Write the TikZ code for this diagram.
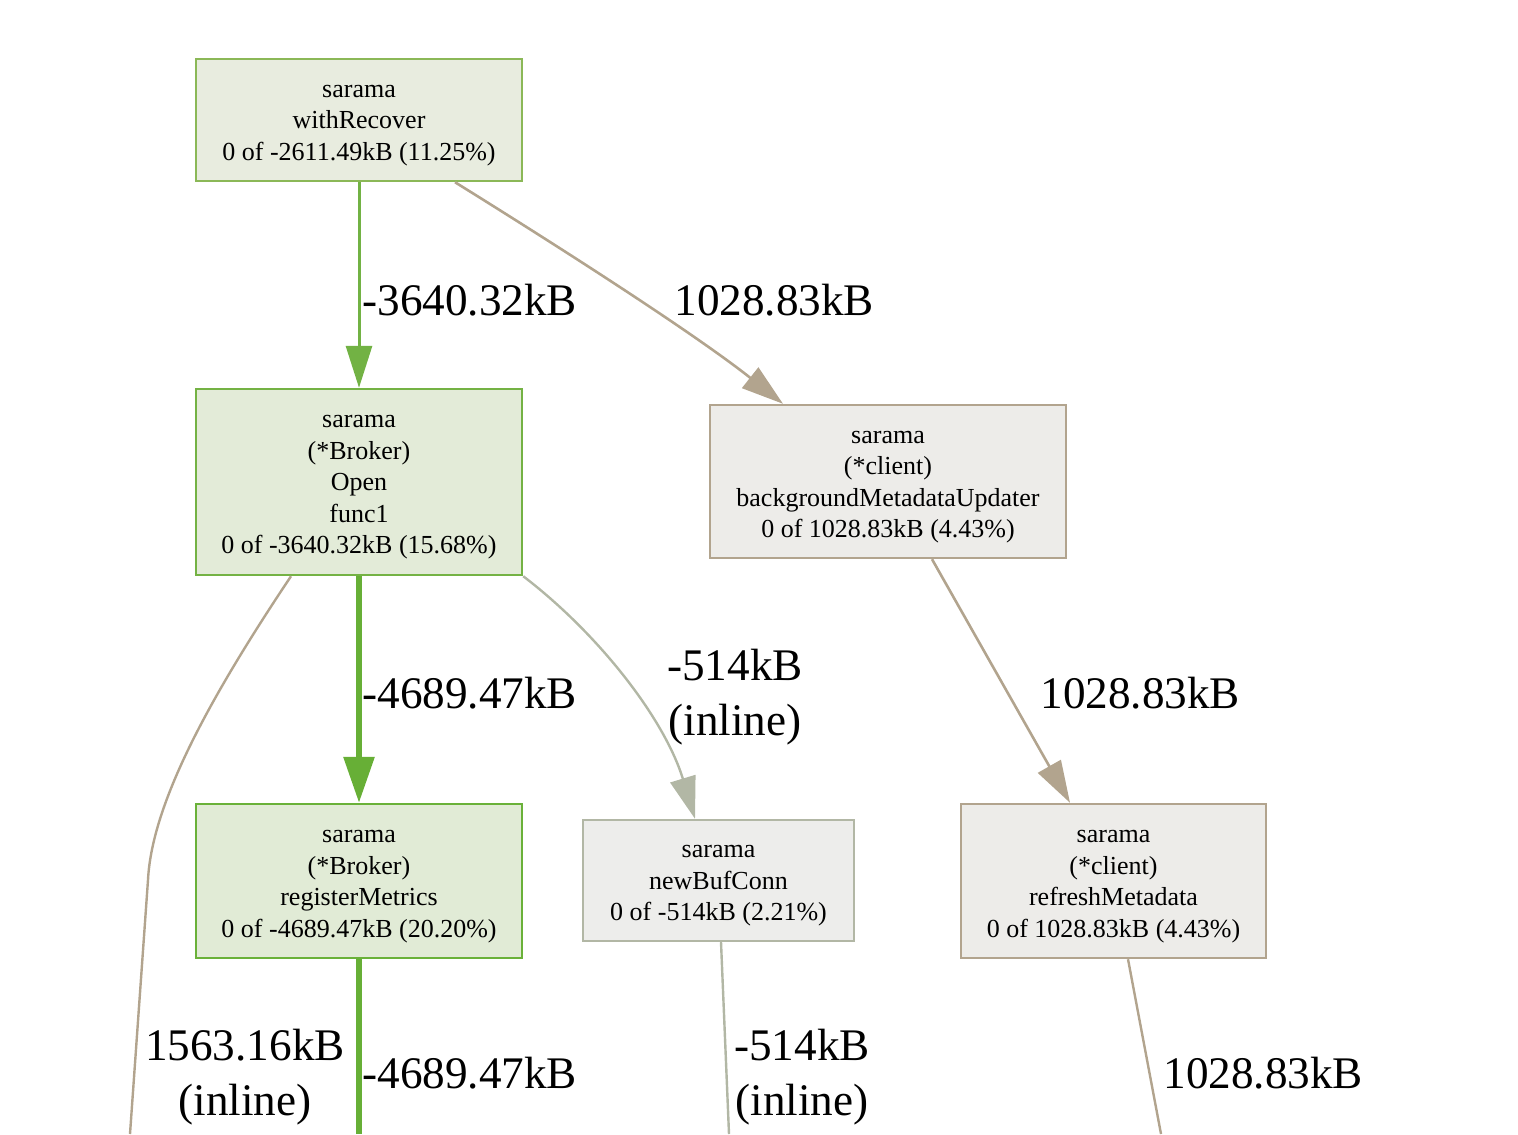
\documentclass[tikz,border=0pt]{standalone}
\usepackage{fontspec}
\setmainfont{Liberation Serif}
\usetikzlibrary{positioning, arrows.meta}

\definecolor{fillA}{HTML}{E8ECDF}
\definecolor{lineA}{HTML}{8BB857}
\definecolor{fillB}{HTML}{E3EBD8}
\definecolor{lineB}{HTML}{74B244}
\definecolor{fillC}{HTML}{E1EBD6}
\definecolor{lineC}{HTML}{6AB139}
\definecolor{fillG}{HTML}{EDECE9}
\definecolor{tan}{HTML}{B2A48E}
\definecolor{fillH}{HTML}{EDEDEB}
\definecolor{sage}{HTML}{B2B7A5}
\definecolor{greenA}{HTML}{72B244}
\definecolor{greenB}{HTML}{67AF36}

\begin{document}
\begin{tikzpicture}[x=0.5pt, y=-0.5pt,
    fn/.style={draw, rectangle, align=center, inner sep=0pt, line width=1.2pt,
        font=\fontsize{13}{15.75}\selectfont, text depth=3pt, text height=#1},
    fn/.default=43.4pt,
    lbl/.style={align=center, inner sep=0pt, font=\fontsize{22.6}{27.5}\selectfont},
    small tip/.style={-{Triangle[length=21pt,width=13pt]}},
    big tip/.style={-{Triangle[length=23pt,width=15pt]}}]
    \useasboundingbox (0,0) rectangle (1518,1134);

    \node[fn, fill=fillA, draw=lineA, minimum width=163pt, minimum height=61pt] (recover) at (359,120)
        {sarama\\withRecover\\0 of -2611.49kB (11.25\%)};
    \node[fn=74.9pt, fill=fillB, draw=lineB, minimum width=163pt, minimum height=93pt] (open) at (359,482)
        {sarama\\(*Broker)\\Open\\func1\\0 of -3640.32kB (15.68\%)};
    \node[fn=59.15pt, fill=fillG, draw=tan, minimum width=178pt, minimum height=76.5pt] (updater) at (888,481.5)
        {sarama\\(*client)\\backgroundMetadataUpdater\\0 of 1028.83kB (4.43\%)};
    \node[fn=59.15pt, fill=fillC, draw=lineC, minimum width=163pt, minimum height=77pt] (metrics) at (359,881)
        {sarama\\(*Broker)\\registerMetrics\\0 of -4689.47kB (20.20\%)};
    \node[fn, fill=fillH, draw=sage, minimum width=135.5pt, minimum height=60.5pt] (bufconn) at (718.5,880.5)
        {sarama\\newBufConn\\0 of -514kB (2.21\%)};
    \node[fn=59.15pt, fill=fillG, draw=tan, minimum width=152.5pt, minimum height=77pt] (refresh) at (1113.5,881)
        {sarama\\(*client)\\refreshMetadata\\0 of 1028.83kB (4.43\%)};

    % edges leaving the picture
    \coordinate (outL) at (130,1134);
    \coordinate (outM) at (359,1134);
    \coordinate (outB) at (729,1134);
    \coordinate (outR) at (1161,1134);

    \draw[greenA, line width=1.5pt, small tip] (recover) -- (open);
    \draw[tan, line width=1.3pt, small tip] ([xshift=48pt]recover.south)
        .. controls (540,235) and (690,330) .. ([xshift=-52.5pt]updater.north);
    \draw[greenB, line width=3pt, big tip] (open) -- (metrics);
    \draw[sage, line width=1.2pt, small tip] (open.south east)
        .. controls (600,635) and (665,720) .. ([xshift=-11.75pt]bufconn.north);
    \draw[tan, line width=1.2pt] ([xshift=-34pt]open.south)
        .. controls (215,690) and (152,800) .. (148,880) -- (outL);
    \draw[tan, line width=1.3pt, small tip] ([xshift=22pt]updater.south) -- ([xshift=-21.75pt]refresh.north);
    \draw[greenB, line width=3pt] (metrics) -- (outM);
    \draw[sage, line width=1.2pt] ([xshift=1.25pt]bufconn.south) -- (outB);
    \draw[tan, line width=1.2pt] ([xshift=7.25pt]refresh.south) -- (outR);

    % edge labels
    \node[lbl, anchor=west] (l1) at (362,300) {-3640.32kB};
    \node[lbl, anchor=west] (l2) at (674,300) {1028.83kB};
    \node[lbl, anchor=west] (l3) at (362,693) {-4689.47kB};
    \node[lbl] (l4) at (735,697) {-514kB\\(inline)};
    \node[lbl, anchor=west] (l5) at (1040,693) {1028.83kB};
    \node[lbl] (l6) at (245,1077) {1563.16kB\\(inline)};
    \node[lbl, anchor=west] (l7) at (362,1073) {-4689.47kB};
    \node[lbl] (l8) at (802,1077) {-514kB\\(inline)};
    \node[lbl, anchor=west] (l9) at (1163,1073) {1028.83kB};
\end{tikzpicture}
\end{document}
